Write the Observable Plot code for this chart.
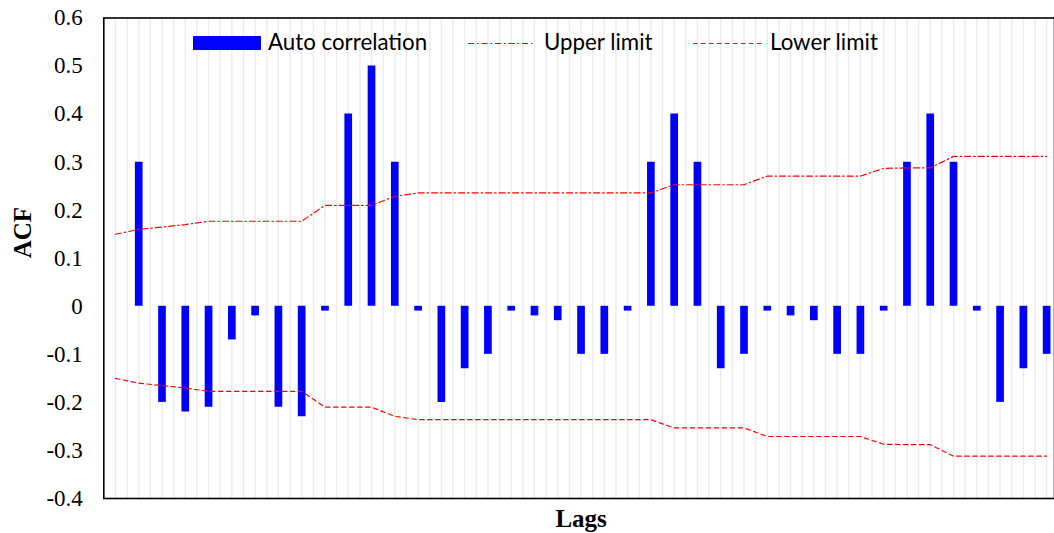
<!DOCTYPE html>
<html>
<head>
<meta charset="utf-8">
<script src="https://cdn.jsdelivr.net/npm/d3@7"></script>
<script src="https://cdn.jsdelivr.net/npm/@observablehq/plot@0.6"></script>
<style>
  html, body { margin: 0; padding: 0; background: #fff; }
  svg { display: block; }
</style>
</head>
<body>
<div id="chart"></div>
<script>
// Autocorrelation at lags 1..40
const lags = [1, 2, 3, 4, 5, 6, 7, 8, 9, 10, 11, 12, 13, 14, 15, 16, 17, 18, 19, 20,
              21, 22, 23, 24, 25, 26, 27, 28, 29, 30, 31, 32, 33, 34, 35, 36, 37, 38, 39, 40];
const acf = [0.30, -0.20, -0.22, -0.21, -0.07, -0.02, -0.21, -0.23, -0.01, 0.40,
             0.50, 0.30, -0.01, -0.20, -0.13, -0.10, -0.01, -0.02, -0.03, -0.10,
             -0.10, -0.01, 0.30, 0.40, 0.30, -0.13, -0.10, -0.01, -0.02, -0.03,
             -0.10, -0.10, -0.01, 0.30, 0.40, 0.30, -0.01, -0.20, -0.13, -0.10];

// Confidence limits at lags 0..40
const limitLags = [0, 1, 2, 3, 4, 5, 6, 7, 8, 9, 10, 11, 12, 13, 14, 15, 16, 17, 18, 19, 20,
                   21, 22, 23, 24, 25, 26, 27, 28, 29, 30, 31, 32, 33, 34, 35, 36, 37, 38, 39, 40];
const upperLimit = [0.150, 0.160, 0.165, 0.170, 0.177, 0.177, 0.177, 0.177, 0.177, 0.210,
                    0.210, 0.210, 0.229, 0.236, 0.236, 0.236, 0.236, 0.236, 0.236, 0.236,
                    0.236, 0.236, 0.236, 0.236, 0.253, 0.253, 0.253, 0.253, 0.271, 0.271,
                    0.271, 0.271, 0.271, 0.287, 0.288, 0.288, 0.312, 0.312, 0.312, 0.312, 0.312];
const lowerLimit = [-0.150, -0.160, -0.165, -0.170, -0.177, -0.177, -0.177, -0.177, -0.177, -0.210,
                    -0.210, -0.210, -0.229, -0.236, -0.236, -0.236, -0.236, -0.236, -0.236, -0.236,
                    -0.236, -0.236, -0.236, -0.236, -0.253, -0.253, -0.253, -0.253, -0.271, -0.271,
                    -0.271, -0.271, -0.271, -0.287, -0.288, -0.288, -0.312, -0.312, -0.312, -0.312, -0.312];

const yTicks = [-0.4, -0.3, -0.2, -0.1, 0, 0.1, 0.2, 0.3, 0.4, 0.5, 0.6];

const bars = lags.map((lag, i) => ({lag, acf: acf[i]}));
const limits = limitLags.map((lag, i) => ({lag, upper: upperLimit[i], lower: lowerLimit[i]}));

const serif = "Liberation Serif, Times New Roman, serif";
const sans = "Lato, Open Sans, sans-serif";
const RED = "#FF0000";
const BLUE = "#0000FF";

const chartWidth = 1054, chartHeight = 533;
const padLeft = 103.3, padTop = 17.5, padBottom = 35;
const lagStep = 23.28;

const chart = Plot.plot({
  width: chartWidth,
  height: chartHeight,
  marginLeft: padLeft,
  marginRight: 0,
  marginTop: padTop,
  marginBottom: padBottom,
  style: {background: "#fff", overflow: "hidden"},
  x: {domain: [-0.5, 40.5], range: [padLeft, padLeft + 41 * lagStep]},
  y: {domain: [-0.4, 0.6]},
  marks: [
    // light vertical grid every half lag
    Plot.ruleX(d3.range(0, 40.51, 0.5), {stroke: "#ececec", strokeWidth: 1.5}),
    Plot.ruleX(bars, {x: "lag", y1: 0, y2: "acf", stroke: BLUE, strokeWidth: 7.7, strokeLinecap: "butt"}),
    Plot.line(limits, {x: "lag", y: "upper", stroke: RED, strokeWidth: 1.2, strokeDasharray: "6,3,1.5,3"}),
    Plot.line(limits, {x: "lag", y: "lower", stroke: RED, strokeWidth: 1.2, strokeDasharray: "4.5,3.5"}),
    Plot.frame({stroke: "#000", strokeWidth: 1.6}),
    Plot.axisY(yTicks, {
      tickSize: 0,
      tickPadding: 21,
      tickFormat: d => d === 0 ? "0" : d.toFixed(1),
      fontSize: 23,
      fill: "#000",
      label: null
    }),
    Plot.axisX({ticks: [], label: null}),
    Plot.text(["ACF"], {
      frameAnchor: "left", rotate: -90, dx: -81, text: d => d,
      fontSize: 25, fontWeight: "bold", fill: "#000"
    }),
    Plot.text(["Lags"], {
      frameAnchor: "bottom", lineAnchor: "bottom", dy: 28, dx: 2, text: d => d,
      fontSize: 25, fontWeight: "bold", fill: "#000"
    })
  ]
});

document.getElementById("chart").appendChild(chart);

const svg = d3.select(chart);
// all axis texts in the serif face
svg.selectAll("text")
  .style("font-family", serif)
  .style("font-variant", "normal");

// Legend inside the plot area
const lg = svg.append("g")
  .attr("font-size", 22.3)
  .attr("fill", "#000")
  .attr("text-anchor", "start");
lg.append("rect").attr("x", 193).attr("y", 36).attr("width", 68).attr("height", 14).attr("fill", BLUE);
lg.append("line").attr("x1", 468).attr("x2", 533).attr("y1", 43.5).attr("y2", 43.5)
  .attr("stroke", RED).attr("stroke-width", 1.2).attr("stroke-dasharray", "6,3,1.5,3");
lg.append("line").attr("x1", 693).attr("x2", 762).attr("y1", 43.5).attr("y2", 43.5)
  .attr("stroke", RED).attr("stroke-width", 1.2).attr("stroke-dasharray", "4.5,3.5");
lg.append("text").attr("x", 268).attr("y", 50).style("font-family", sans).text("Auto correlation");
lg.append("text").attr("x", 544).attr("y", 50).style("font-family", sans).text("Upper limit");
lg.append("text").attr("x", 770).attr("y", 50).style("font-family", sans).text("Lower limit");
</script>
</body>
</html>
